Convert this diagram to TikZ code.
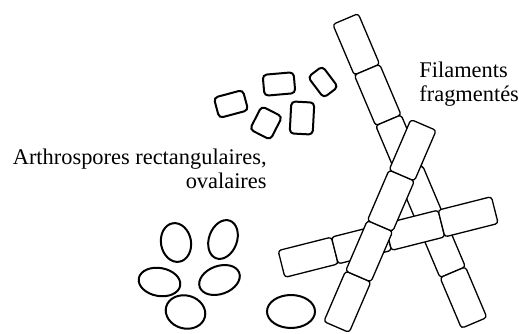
\documentclass[tikz,border=0pt]{standalone}
\usepackage{fontspec}
\setmainfont{Liberation Serif}
\usetikzlibrary{shapes.geometric}
\begin{document}
\begin{tikzpicture}[x=0.5pt,y=0.5pt,
    cell/.style={shape=rectangle,draw=black,fill=white,line width=0.65pt,rounded corners=1.5pt,minimum width=27.5pt,minimum height=13.8pt,inner sep=0pt,outer sep=0pt},
    spore/.style={shape=rectangle,draw=black,line width=1pt,rounded corners=2pt,inner sep=0pt},
    oval/.style={shape=ellipse,draw=black,line width=1pt,inner sep=0pt},
    note/.style={font=\fontsize{11.2}{12}\selectfont,inner sep=0pt}]
  \useasboundingbox (0,0) rectangle (519,333);

  % long filament, at the back
  \begin{scope}[shift={(345.5,314)},rotate=-67.05,transform shape]
    \foreach \i in {1,...,6}
      \node[cell] (a\i) at ({(\i-0.5)*55},0) {};
  \end{scope}
  % crossing filament
  \begin{scope}[shift={(281.5,69)},rotate=14.2,transform shape]
    \foreach \i in {1,...,4}
      \node[cell] (c\i) at ({(\i-0.5)*55},0) {};
  \end{scope}
  % front filament
  \begin{scope}[shift={(336.5,6)},rotate=66.7,transform shape]
    \foreach \i in {1,...,4}
      \node[cell] (b\i) at ({(\i-0.5)*55},0) {};
  \end{scope}

  % rectangular spores
  \node[spore,minimum width=15pt,minimum height=10.5pt,rotate=15] (r1) at (231,229) {};
  \node[spore,minimum width=15.5pt,minimum height=10.5pt,rotate=5] (r2) at (279,249) {};
  \node[spore,minimum width=9pt,minimum height=13pt,rotate=37] (r3) at (323,251) {};
  \node[spore,minimum width=11.5pt,minimum height=13pt,rotate=-27] (r4) at (266,210) {};
  \node[spore,minimum width=11.5pt,minimum height=16pt,rotate=-3] (r5) at (302,215) {};

  % oval spores
  \node[oval,minimum width=15pt,minimum height=19.5pt,rotate=10] (o1) at (176,90.5) {};
  \node[oval,minimum width=14pt,minimum height=20pt,rotate=-20] (o2) at (223,93.5) {};
  \node[oval,minimum width=21pt,minimum height=14pt,rotate=-10] (o3) at (159.5,51) {};
  \node[oval,minimum width=21pt,minimum height=14pt,rotate=20] (o4) at (219.5,53) {};
  \node[oval,minimum width=20pt,minimum height=16.5pt,rotate=-15] (o5) at (185.5,21) {};
  \node[oval,minimum width=24pt,minimum height=16.5pt] (o6) at (291,21.5) {};

  \node[note,anchor=north east,align=right] (arthro) at (267,184) {Arthrospores rectangulaires,\\ovalaires};
  \node[note,anchor=north west,align=left] (filam) at (419,271) {Filaments\\fragmentés};
\end{tikzpicture}
\end{document}
